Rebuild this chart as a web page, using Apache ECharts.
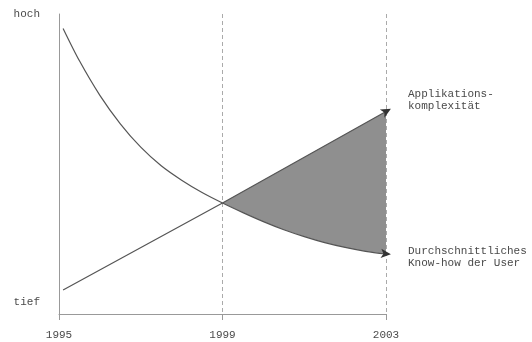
<!DOCTYPE html>
<html>
<head>
<meta charset="utf-8">
<script src="https://cdn.jsdelivr.net/npm/echarts@6/dist/echarts.min.js"></script>
<style>
	html, body { margin: 0; padding: 0; background: #fff; }
	#main { width: 532px; height: 342px; }
</style>
</head>
<body>
<div id="main"></div>
<script>
var years = [1995, 1999, 2003];
var yLabels = { 4: 'tief', 100: 'hoch' };

// durchschnittliches Know-how (fallende Kurve)
var knowYears = [1995.1, 1995.5, 1996, 1996.5, 1997, 1997.5, 1998, 1998.5, 1999,
	1999.5, 2000, 2000.5, 2001, 2001.5, 2002, 2002.5, 2003, 2003.12];
var knowValues = [95.2, 84.4, 72.9, 63.4, 55.6, 49.4, 44.6, 40.5, 37,
	33.8, 30.8, 28.1, 25.8, 23.8, 22.2, 20.9, 20.0, 19.9];

// Applikationskomplexität (Gerade)
var applYears = [1995.1, 1999, 2003, 2003.12];
var applValues = [8, 37, 67.5, 68.4];

var font = 'Liberation Mono';
var textColor = '#4a4a4a';

function pairs(xs, ys, arrowRotate) {
	var out = [];
	for (var i = 0; i < xs.length; i++) {
		out.push([xs[i], ys[i]]);
	}
	var last = out.pop();
	out.push({
		value: last,
		symbol: 'arrow',
		symbolSize: [7, 10],
		symbolRotate: arrowRotate
	});
	return out;
}

var dom = document.getElementById('main');
var myChart = echarts.init(dom);

var option = {
	animation: false,
	grid: {
		left: 59,
		right: 146,
		top: 14,
		bottom: 28
	},
	xAxis: {
		type: 'value',
		min: years[0],
		max: years[years.length - 1],
		interval: 4,
		axisLine: { lineStyle: { color: '#999', width: 1 } },
		axisTick: { show: true, length: 6, lineStyle: { color: '#999' } },
		axisLabel: {
			fontFamily: font,
			fontSize: 11,
			color: textColor,
			margin: 16,
			formatter: function (v) {
				return String(v);
			}
		},
		splitLine: {
			show: true,
			lineStyle: { color: '#aaa', type: [4, 3], width: 1 }
		}
	},
	yAxis: {
		type: 'value',
		min: 0,
		max: 100,
		interval: 4,
		axisLine: { show: true, lineStyle: { color: '#999', width: 1 } },
		axisTick: { show: false },
		splitLine: { show: false },
		axisLabel: {
			fontFamily: font,
			fontSize: 11,
			color: textColor,
			margin: 19,
			formatter: function (v) {
				return yLabels[v] || '';
			}
		}
	},
	series: [{
		type: 'custom',
		z: 1,
		silent: true,
		data: [[0]],
		renderItem: function (params, api) {
			var pts = [];
			for (var i = 0; i < applYears.length; i++) {
				if (applYears[i] >= 1999 && applYears[i] <= 2003) {
					pts.push(api.coord([applYears[i], applValues[i]]));
				}
			}
			for (var j = knowYears.length - 1; j >= 0; j--) {
				if (knowYears[j] >= 1999 && knowYears[j] <= 2003) {
					pts.push(api.coord([knowYears[j], knowValues[j]]));
				}
			}
			return {
				type: 'polygon',
				shape: { points: pts, smooth: 0 },
				style: { fill: '#8f8f8f', stroke: null }
			};
		}
	}, {
		name: 'Durchschnittliches\nKnow-how der User',
		type: 'line',
		z: 3,
		smooth: 0.3,
		clip: false,
		symbol: 'none',
		showSymbol: true,
		data: pairs(knowYears, knowValues, -95),
		itemStyle: { color: '#333' },
		lineStyle: { color: '#555', width: 1.2 },
		endLabel: {
			show: true,
			formatter: '{a}',
			fontFamily: font,
			fontSize: 11,
			lineHeight: 12,
			color: textColor,
			offset: [12, 3]
		}
	}, {
		name: 'Applikations-\nkomplexität',
		type: 'line',
		z: 3,
		clip: false,
		symbol: 'none',
		showSymbol: true,
		data: pairs(applYears, applValues, -61),
		itemStyle: { color: '#333' },
		lineStyle: { color: '#555', width: 1.2 },
		endLabel: {
			show: true,
			formatter: '{a}',
			fontFamily: font,
			fontSize: 11,
			lineHeight: 12,
			color: textColor,
			offset: [12, -10]
		}
	}]
};

myChart.setOption(option, true);
</script>
</body>
</html>
